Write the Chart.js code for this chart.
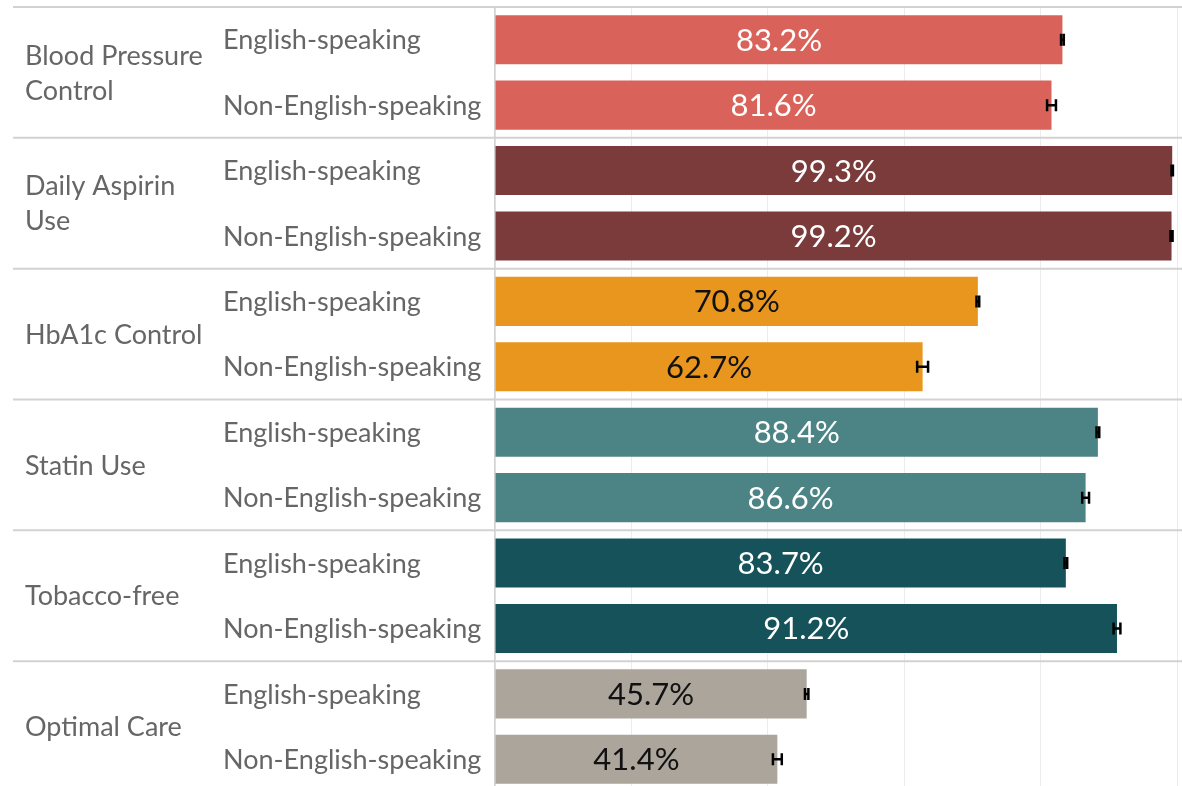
<!DOCTYPE html>
<html>
<head>
<meta charset="utf-8">
<script src="https://cdn.jsdelivr.net/npm/chart.js@4.4.0/dist/chart.umd.min.js"></script>
<style>
  html, body { margin: 0; padding: 0; background: #fff; overflow: hidden; }
  #wrap { width: 1182px; height: 800px; }
</style>
</head>
<body>
<div id="wrap"><canvas id="chart"></canvas></div>
<script>
// data
const groups = ['Blood Pressure\nControl', 'Daily Aspirin\nUse', 'HbA1c Control', 'Statin Use', 'Tobacco-free', 'Optimal Care'];
const subgroups = ['English-speaking', 'Non-English-speaking'];
const english = [83.2, 99.3, 70.8, 88.4, 83.7, 45.7];
const nonEnglish = [81.6, 99.2, 62.7, 86.6, 91.2, 41.4];
const englishErr = [0.2, 0.1, 0.2, 0.2, 0.2, 0.25];
const nonEnglishErr = [0.65, 0.15, 0.8, 0.5, 0.5, 0.65];
const groupColors = ['#D9635A', '#7B3B3B', '#E8961E', '#4C8486', '#15525A', '#ABA59C'];
const labelColors = ['#fff', '#fff', '#111', '#fff', '#fff', '#111'];

const FONT = 'Lato, "Open Sans", sans-serif';

let labels = [], values = [], errs = [], colors = [], txtColors = [];
groups.forEach((g, i) => {
    labels.push(subgroups[0], subgroups[1]);
    values.push(english[i], nonEnglish[i]);
    errs.push(englishErr[i], nonEnglishErr[i]);
    colors.push(groupColors[i], groupColors[i]);
    txtColors.push(labelColors[i], labelColors[i]);
});

const extras = {
    id: 'extras',
    afterDatasetsDraw(chart) {
        const ctx = chart.ctx;
        const x = chart.scales.x;
        const meta = chart.getDatasetMeta(0);
        ctx.save();
        // value labels
        ctx.font = '31px ' + FONT;
        ctx.textAlign = 'center';
        ctx.textBaseline = 'middle';
        meta.data.forEach((bar, i) => {
            ctx.fillStyle = txtColors[i];
            ctx.fillText(values[i].toFixed(1) + '%', (bar.base + bar.x) / 2, bar.y + 1);
        });
        // error bars
        ctx.strokeStyle = '#000';
        ctx.lineWidth = 2.5;
        meta.data.forEach((bar, i) => {
            const lo = x.getPixelForValue(values[i] - errs[i]);
            const hi = x.getPixelForValue(values[i] + errs[i]);
            ctx.beginPath();
            ctx.moveTo(lo, bar.y); ctx.lineTo(hi, bar.y);
            ctx.moveTo(lo, bar.y - 6); ctx.lineTo(lo, bar.y + 6);
            ctx.moveTo(hi, bar.y - 6); ctx.lineTo(hi, bar.y + 6);
            ctx.stroke();
        });
        ctx.restore();
    },
    afterDraw(chart) {
        const ctx = chart.ctx;
        const y = chart.scales.y;
        const area = chart.chartArea;
        const step = (area.bottom - area.top) / groups.length;
        ctx.save();
        // group separators
        ctx.strokeStyle = '#d2d2d2';
        ctx.lineWidth = 2;
        for (let i = 0; i <= groups.length; i++) {
            const yy = area.top + i * step;
            ctx.beginPath();
            ctx.moveTo(13, yy);
            ctx.lineTo(chart.width, yy);
            ctx.stroke();
        }
        ctx.fillStyle = '#666';
        ctx.font = '27px ' + FONT;
        ctx.textAlign = 'left';
        ctx.textBaseline = 'middle';
        // subgroup labels
        labels.forEach((l, i) => {
            ctx.fillText(l, 223, y.getPixelForValue(i) + 1);
        });
        // group labels
        groups.forEach((g, i) => {
            const lines = g.split('\n');
            const mid = area.top + (i + 0.5) * step;
            const lh = 35;
            lines.forEach((ln, k) => {
                ctx.fillText(ln, 25, mid + 1 + (k - (lines.length - 1) / 2) * lh);
            });
        });
        ctx.restore();
    }
};

new Chart(document.getElementById('chart'), {
    type: 'bar',
    data: {
        labels: labels,
        datasets: [{
            data: values,
            backgroundColor: colors,
            borderWidth: 0,
            categoryPercentage: 0.75,
            barPercentage: 1
        }]
    },
    options: {
        indexAxis: 'y',
        responsive: true,
        maintainAspectRatio: false,
        animation: false,
        layout: { padding: { top: 7, bottom: 8, right: 5, left: 0 } },
        plugins: { legend: { display: false }, tooltip: { enabled: false } },
        scales: {
            x: {
                min: 0,
                max: 100,
                ticks: { display: false, stepSize: 20 },
                grid: { color: '#ececec', lineWidth: 1, drawTicks: false },
                border: { display: false }
            },
            y: {
                afterFit(axis) { axis.width = 495; },
                ticks: { display: false },
                grid: { display: false, drawTicks: false },
                border: { display: true, color: '#d2d2d2', width: 1.5 }
            }
        }
    },
    plugins: [extras]
});
</script>
</body>
</html>
